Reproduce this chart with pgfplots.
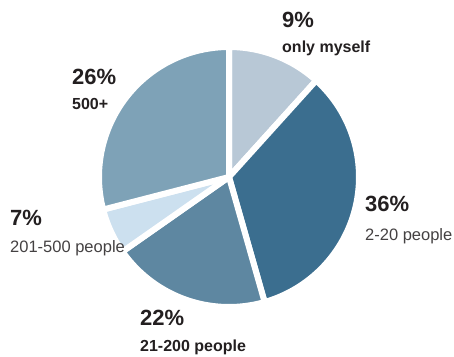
\documentclass[border=0pt]{standalone}
\usepackage{pgfplots}
\pgfplotsset{compat=1.18}
\usepackage{fontspec}
\setmainfont{Liberation Sans}
\definecolor{cA}{HTML}{B8C8D6}
\definecolor{cB}{HTML}{3B6E8F}
\definecolor{cC}{HTML}{5E87A1}
\definecolor{cD}{HTML}{CCE0EF}
\definecolor{cE}{HTML}{7EA2B7}
\definecolor{txt}{HTML}{231F20}
% slice shares as drawn (percent of circle): 11.7, 33.9, 19.7, 5.7, 29.0
% start angle 90 deg, clockwise; domains below are the resulting angles
\newcommand{\cx}{229}
\newcommand{\cy}{179}
\newcommand{\R}{130}
\begin{document}
\begin{tikzpicture}
\begin{axis}[
  width=454pt, height=356pt, scale only axis,
  xmin=0, xmax=454, ymin=0, ymax=356,
  hide axis, clip=false,
]
\pgfplotsset{every axis plot/.append style={draw=white, line width=6pt, line join=round, samples=120, no marks}}
\addplot[fill=cA, domain=47.9:90]   ({\cx+\R*cos(x)},{\cy+\R*sin(x)}) -- (\cx,\cy) -- cycle;
\addplot[fill=cB, domain=-74.1:47.9] ({\cx+\R*cos(x)},{\cy+\R*sin(x)}) -- (\cx,\cy) -- cycle;
\addplot[fill=cC, domain=-145:-74.1] ({\cx+\R*cos(x)},{\cy+\R*sin(x)}) -- (\cx,\cy) -- cycle;
\addplot[fill=cD, domain=-165.5:-145] ({\cx+\R*cos(x)},{\cy+\R*sin(x)}) -- (\cx,\cy) -- cycle;
\addplot[fill=cE, domain=-270:-165.5] ({\cx+\R*cos(x)},{\cy+\R*sin(x)}) -- (\cx,\cy) -- cycle;

\tikzset{pct/.style={anchor=base west, inner sep=0pt, text=txt, font=\bfseries\fontsize{22}{24}\selectfont},
         lbb/.style={anchor=base west, inner sep=0pt, text=txt, font=\bfseries\fontsize{16}{18}\selectfont},
         lbr/.style={anchor=base west, inner sep=0pt, text=txt!85, font=\fontsize{16.5}{18}\selectfont}}
\node[pct] at (282,{356-28}) {9\%};
\node[lbb] at (282,{356-53}) {only myself};
\node[pct] at (72,{356-85}) {26\%};
\node[lbb] at (72,{356-110}) {500+};
\node[pct] at (365,{356-212}) {36\%};
\node[lbr] at (365,{356-240}) {2-20 people};
\node[pct] at (10,{356-225}) {7\%};
\node[lbr] at (10,{356-252}) {201-500 people};
\node[pct] at (140,{356-325}) {22\%};
\node[lbb] at (140,{356-351}) {21-200 people};
\end{axis}
\pgfresetboundingbox
\path (0,0) rectangle (454pt,356pt);
\end{tikzpicture}
\end{document}
